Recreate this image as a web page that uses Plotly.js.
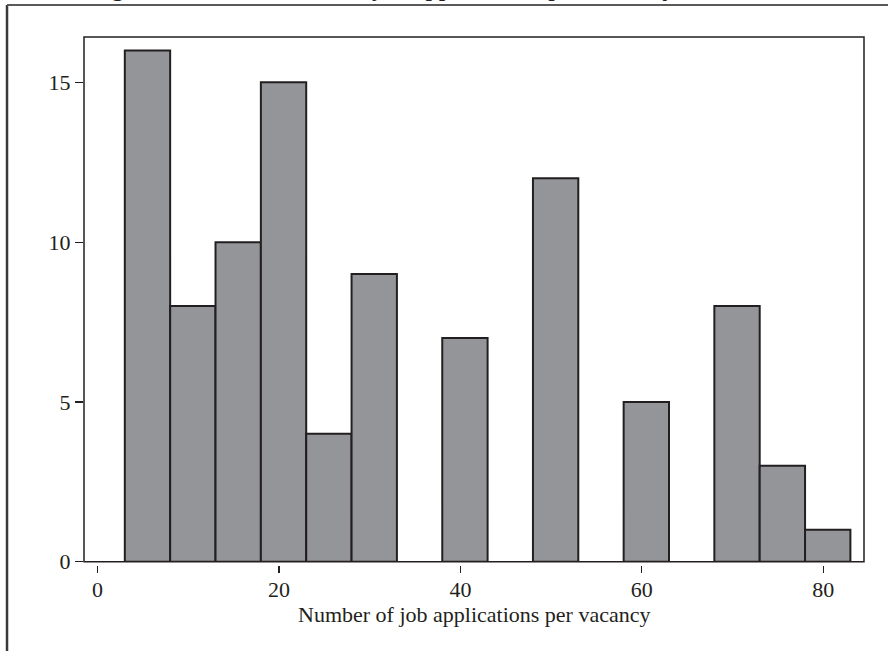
<!DOCTYPE html>
<html>
<head>
<meta charset="utf-8">
<script src="https://cdn.plot.ly/plotly-3.0.1.min.js"></script>
<style>
  html, body { margin: 0; padding: 0; background: #ffffff; }
  #chart { width: 888px; height: 651px; }
</style>
</head>
<body>
<div id="chart"></div>
<script>
// ---- data ----
const binStart = [3, 8, 13, 18, 23, 28, 38, 48, 58, 68, 73, 78];
const binWidth = 5;
const counts = [16, 8, 10, 15, 4, 9, 7, 12, 5, 8, 3, 1];
const xTickVals = [0, 20, 40, 60, 80];
const yTickVals = [0, 5, 10, 15];
const xTitle = 'Number of job applications per vacancy';
const caption = 'Figure A1: Distribution of job applications per vacancy';

const serif = 'Liberation Serif, Times New Roman, Times, serif';
const binCenter = binStart.map(s => s + binWidth / 2);

const trace = {
  type: 'bar',
  x: binCenter,
  y: counts,
  width: binStart.map(() => binWidth),
  marker: { color: '#939598', line: { color: '#231f20', width: 2 } },
  hoverinfo: 'x+y'
};

const layout = {
  width: 888,
  height: 651,
  margin: { l: 84, r: 24, t: 37, b: 86, pad: 0 },
  paper_bgcolor: '#ffffff',
  plot_bgcolor: '#ffffff',
  showlegend: false,
  bargap: 0,
  font: { family: serif, size: 22, color: '#231f20' },
  xaxis: {
    range: [-1.5, 84.5],
    anchor: 'free',
    position: 0,
    tickmode: 'array',
    tickvals: xTickVals,
    ticktext: xTickVals.map(String),
    ticks: 'outside',
    ticklen: 7,
    tickwidth: 1.2,
    tickcolor: '#231f20',
    ticklabelstandoff: -2,
    showline: false,
    showgrid: false,
    zeroline: false,
    tickfont: { family: serif, size: 22, color: '#231f20' },
    automargin: false
  },
  yaxis: {
    domain: [0.0063, 1],
    range: [0, 16.42],
    anchor: 'x',
    tickmode: 'array',
    tickvals: yTickVals,
    ticktext: yTickVals.map(String),
    ticks: 'outside',
    ticklen: 8,
    tickwidth: 1.2,
    tickcolor: '#231f20',
    showline: false,
    showgrid: false,
    zeroline: false,
    tickfont: { family: serif, size: 22, color: '#231f20' },
    automargin: false
  },
  shapes: [
    { type: 'rect', xref: 'x domain', yref: 'y domain', x0: 0, x1: 1, y0: 0, y1: 1,
      line: { color: '#231f20', width: 1.5 }, fillcolor: 'rgba(0,0,0,0)', layer: 'above' },
    { type: 'line', xref: 'paper', yref: 'paper', x0: -0.0987, x1: -0.0987, y0: -0.3, y1: 1.0606,
      line: { color: '#3a3a3a', width: 2.5 } },
    { type: 'line', xref: 'paper', yref: 'paper', x0: -0.0987, x1: 1.2, y0: 1.0606, y1: 1.0606,
      line: { color: '#5a5a5a', width: 2 } }
  ],
  annotations: [
    { text: xTitle, xref: 'paper', yref: 'paper', x: 0.5, y: (565 - 614) / 528,
      xanchor: 'center', yanchor: 'middle', showarrow: false, borderpad: 0,
      font: { family: serif, size: 22, color: '#231f20' } },
    { text: caption, xref: 'paper', yref: 'paper', x: (88 - 84) / 780, y: 1.0665,
      xanchor: 'left', yanchor: 'bottom', showarrow: false, borderpad: 0,
      font: { family: serif, size: 26.5, color: '#231f20' } }
  ]
};

Plotly.newPlot('chart', [trace], layout, { displayModeBar: false, staticPlot: true });
</script>
</body>
</html>
